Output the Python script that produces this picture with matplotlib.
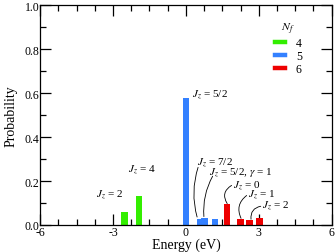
import matplotlib
matplotlib.use("Agg")
import matplotlib.pyplot as plt
from matplotlib.ticker import MultipleLocator

plt.rcParams['font.family'] = ['Liberation Serif', 'DejaVu Serif']
plt.rcParams['mathtext.fontset'] = 'stix'

# N_f = 4
e4 = [-2.53, -1.93]
p4 = [0.058, 0.130]
# N_f = 5
e5 = [0.0, 0.58, 0.76, 1.19]
p5 = [0.577, 0.029, 0.032, 0.026]
# N_f = 6
e6 = [1.68, 2.25, 2.62, 3.03]
p6 = [0.095, 0.027, 0.021, 0.032]

green = '#33ee00'
blue = '#3380ff'
red = '#ee0000'

fig = plt.figure(figsize=(3.35, 2.53), dpi=100)
ax = fig.add_axes([0.12, 0.107, 0.87, 0.868])

w = 0.26
ax.bar(e4, p4, width=w, color=green, zorder=2)
ax.bar(e5, p5, width=w, color=blue, zorder=2)
ax.bar(e6, p6, width=w, color=red, zorder=2)

# legend entries
ax.plot([], [], color=green, lw=3.2, label='4')
ax.plot([], [], color=blue, lw=3.2, label='5')
ax.plot([], [], color=red, lw=3.2, label='6')
leg = ax.legend(title='$N_f$', frameon=False, loc='upper left',
                bbox_to_anchor=(0.768, 0.978), fontsize=8.5, title_fontsize=8.5,
                handlelength=0.9, handletextpad=0.9, labelspacing=0.08)

fs = 8
ax.text(-3.69, 0.145, '$J_z$ = 2', fontsize=fs, va='center')
ax.text(-2.37, 0.255, '$J_z$ = 4', fontsize=fs, va='center')
ax.text(0.26, 0.60, '$J_z$ = 5/2', fontsize=fs, va='center')

# label, bar top, text position, line start
ann = [
    ('$J_z$ = 7/2', (0.46, 0.036), (0.46, 0.29), (0.50, 0.262), 0.15),
    ('$J_z$ = 5/2, $\\gamma$ = 1', (0.74, 0.038), (0.955, 0.245), (1.10, 0.222), 0.15),
    ('$J_z$ = 0', (1.70, 0.097), (1.94, 0.186), (1.88, 0.180), 0.5),
    ('$J_z$ = 1', (2.27, 0.030), (2.56, 0.141), (2.50, 0.134), 0.4),
    ('$J_z$ = 2', (2.68, 0.026), (3.14, 0.091), (3.08, 0.085), 0.45),
]
for txt, xy, tpos, lpos, rad in ann:
    ax.text(tpos[0], tpos[1], txt, fontsize=fs, va='center')
    ax.annotate('', xy=xy, xytext=lpos,
                arrowprops=dict(arrowstyle='-', lw=0.6, color='k',
                                connectionstyle='arc3,rad=%s' % rad,
                                shrinkA=0, shrinkB=0))

ax.set_xlim(-6, 6)
ax.set_ylim(0, 1.0)
ax.xaxis.set_minor_locator(MultipleLocator(0.75))
ax.yaxis.set_minor_locator(MultipleLocator(0.1))
ax.set_xticks([-6, -3, 0, 3, 6])
ax.set_xticklabels(['-6', '-3', '0', '3', '6'])
ax.set_yticks([0, 0.2, 0.4, 0.6, 0.8, 1.0])
ax.set_yticklabels(['0.0', '0.2', '0.4', '0.6', '0.8', '1.0'])
ax.tick_params(which='both', direction='in', top=True, right=True,
               labelsize=8.5, pad=0.5)
ax.tick_params(which='major', length=8, width=0.9)
ax.tick_params(which='minor', length=4.5, width=0.9)
for s in ax.spines.values():
    s.set_linewidth(0.9)

ax.set_xlabel('Energy (eV)', fontsize=10, labelpad=0)
ax.set_ylabel('Probability', fontsize=10, labelpad=5)

fig.savefig('out.png', dpi=100)
